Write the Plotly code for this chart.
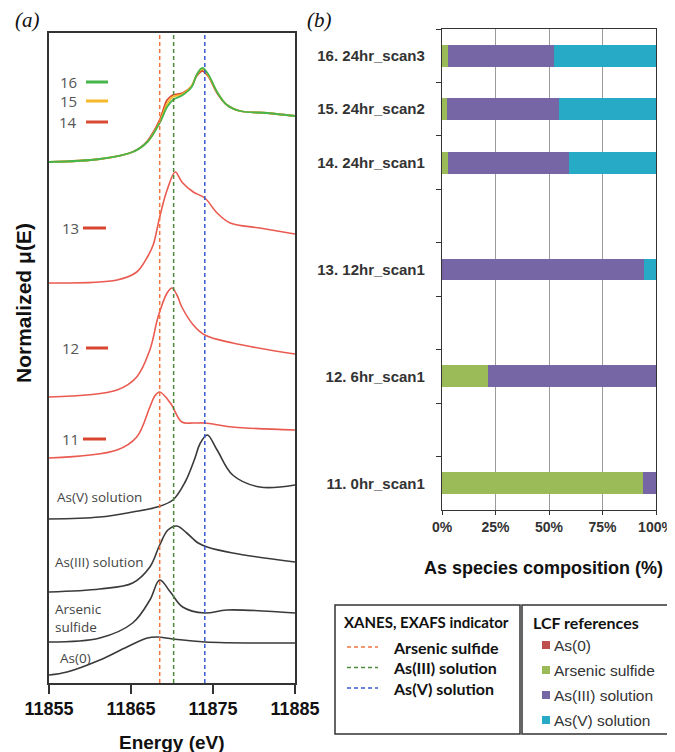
import plotly.graph_objects as go

# page is drawn with an 8px body margin, so the figure is 8px smaller and shifted
OFF = 8
W, H = 675 - OFF, 752 - OFF
def PX(x): return (x - OFF) / W
def PY(y): return 1 - (y - OFF) / H

# ---------------- Panel (a) data: XANES spectra (energy eV, offset normalized mu) -------------
E_top = [11855.0, 11861.2, 11865.2, 11867.0, 11868.5, 11869.4, 11870.1, 11871.3, 11872.4,
         11873.0, 11873.7, 11874.4, 11875.5, 11876.7, 11878.3, 11881.6, 11885.0]
mu16 = [5.21, 5.24, 5.31, 5.41, 5.60, 5.76, 5.83, 5.88, 5.96, 6.08, 6.15, 6.09, 5.91, 5.78, 5.72, 5.70, 5.67]
mu15 = [5.21, 5.24, 5.31, 5.41, 5.61, 5.79, 5.86, 5.89, 5.97, 6.08, 6.14, 6.08, 5.91, 5.78, 5.72, 5.70, 5.67]
mu14 = [5.21, 5.24, 5.31, 5.42, 5.63, 5.83, 5.88, 5.90, 5.97, 6.07, 6.12, 6.07, 5.90, 5.78, 5.72, 5.70, 5.67]

E13 = [11855.0, 11863.3, 11865.7, 11867.0, 11867.7, 11868.5, 11869.4, 11870.4, 11871.2,
       11872.6, 11874.0, 11875.5, 11877.1, 11880.7, 11885.0]
mu13 = [4.00, 4.03, 4.11, 4.26, 4.38, 4.66, 4.93, 5.11, 5.01, 4.91, 4.85, 4.70, 4.60, 4.55, 4.49]

E12 = [11855.0, 11863.3, 11865.7, 11867.3, 11868.3, 11869.4, 11870.0, 11870.6, 11871.2,
       11872.6, 11874.0, 11877.4, 11885.0]
mu12 = [2.86, 2.93, 3.06, 3.33, 3.66, 3.90, 3.95, 3.88, 3.76, 3.58, 3.48, 3.40, 3.29]

E11 = [11855.0, 11863.3, 11865.7, 11867.3, 11867.9, 11868.5, 11869.8, 11871.2, 11872.6,
       11874.0, 11877.4, 11885.0]
mu11 = [2.25, 2.33, 2.46, 2.76, 2.87, 2.91, 2.80, 2.61, 2.60, 2.60, 2.56, 2.53]

E_AsV = [11855.0, 11861.2, 11865.2, 11868.2, 11870.1, 11871.6, 11872.8, 11873.4, 11874.3,
         11875.5, 11877.4, 11880.7, 11885.0]
mu_AsV = [1.64, 1.66, 1.71, 1.76, 1.83, 2.01, 2.25, 2.39, 2.48, 2.33, 2.08, 1.96, 1.98]

E_AsIII = [11855.0, 11861.2, 11865.2, 11867.3, 11868.5, 11869.5, 11870.6, 11871.8, 11873.2,
           11874.3, 11877.4, 11885.0]
mu_AsIII = [0.91, 0.94, 1.00, 1.16, 1.38, 1.53, 1.57, 1.50, 1.40, 1.36, 1.30, 1.21]

E_sulf = [11855.0, 11861.2, 11865.2, 11867.3, 11868.5, 11869.8, 11871.3, 11874.0, 11876.7, 11885.0]
mu_sulf = [0.41, 0.45, 0.60, 0.83, 1.03, 0.91, 0.76, 0.70, 0.73, 0.70]

E_As0 = [11855.0, 11857.2, 11861.2, 11864.5, 11867.0, 11868.2, 11870.1, 11874.0, 11885.0]
mu_As0 = [0.08, 0.11, 0.23, 0.36, 0.45, 0.46, 0.44, 0.41, 0.40]

# indicator energies (dashed lines)
indicator_names = ["Arsenic sulfide", "As(III) solution", "As(V) solution"]
indicator_E = [11868.5, 11870.2, 11874.0]
indicator_colors = ["#f4743f", "#4f8a3c", "#3a5ad0"]

x_ticks = [11855, 11865, 11875, 11885]

# ---------------- Panel (b) data: LCF composition (%) -------------
samples = ["16. 24hr_scan3", "15. 24hr_scan2", "14. 24hr_scan1", " ",
           "13. 12hr_scan1", "  ", "12. 6hr_scan1", "   ", "11. 0hr_scan1"]
ref_names = ["As(0)", "Arsenic sulfide", "As(III) solution", "As(V) solution"]
ref_colors = ["#c0504d", "#9bbb59", "#7666a6", "#27aac5"]
frac_As0 = [0, 0, 0, 0, 0, 0, 0, 0, 0]
frac_sulf = [3.0, 2.2, 3.0, 0, 0, 0, 21.5, 0, 93.8]
frac_AsIII = [49.5, 52.6, 56.4, 0, 94.4, 0, 78.5, 0, 6.2]
frac_AsV = [47.5, 45.2, 40.6, 0, 5.6, 0, 0, 0, 0]
pct_ticks = [0, 25, 50, 75, 100]
pct_labels = ["0%", "25%", "50%", "75%", "100%"]

fig = go.Figure()

black = "#3a3a3a"
salmon = "#ea5a50"
for E, mu in [(E_As0, mu_As0), (E_sulf, mu_sulf), (E_AsIII, mu_AsIII), (E_AsV, mu_AsV)]:
    fig.add_trace(go.Scatter(x=E, y=mu, mode="lines", line=dict(color=black, width=1.6, shape="spline", smoothing=1.0),
                             showlegend=False, xaxis="x", yaxis="y"))
for E, mu in [(E11, mu11), (E12, mu12), (E13, mu13)]:
    fig.add_trace(go.Scatter(x=E, y=mu, mode="lines", line=dict(color=salmon, width=1.6, shape="spline", smoothing=1.0),
                             showlegend=False, xaxis="x", yaxis="y"))
for mu, col in [(mu14, "#d94a32"), (mu15, "#f7b928"), (mu16, "#45b54c")]:
    fig.add_trace(go.Scatter(x=E_top, y=mu, mode="lines", line=dict(color=col, width=1.8, shape="spline", smoothing=1.0),
                             showlegend=False, xaxis="x", yaxis="y"))
for e, col in zip(indicator_E, indicator_colors):
    fig.add_trace(go.Scatter(x=[e, e], y=[0, 6.5], mode="lines", line=dict(color=col, width=1.5, dash="4px,3px"),
                             showlegend=False, xaxis="x", yaxis="y"))

for name, col, vals in zip(ref_names, ref_colors, [frac_As0, frac_sulf, frac_AsIII, frac_AsV]):
    fig.add_trace(go.Bar(y=samples, x=vals, orientation="h", name=name, marker=dict(color=col, line=dict(width=0)),
                         showlegend=False, xaxis="x2", yaxis="y2"))

axcol = "#333333"
bold_tick = dict(family="Liberation Sans", size=18, color="#111111", weight="bold")
fig.update_layout(
    width=W, height=H, margin=dict(l=0, r=0, t=0, b=0, autoexpand=False),
    paper_bgcolor="white", plot_bgcolor="white",
    barmode="stack", bargap=0.59,
    xaxis=dict(domain=[PX(49), PX(295)], range=[11855, 11885], tickvals=x_ticks, automargin=False,
               ticktext=[str(t) for t in x_ticks], ticks="outside", ticklen=9, tickwidth=1.5,
               tickcolor=axcol, showline=True, linecolor=axcol, linewidth=1.5, mirror=True,
               showgrid=False, zeroline=False, tickfont=bold_tick, anchor="y"),
    yaxis=dict(domain=[PY(683), PY(33)], range=[0, 6.5], showticklabels=False, ticks="", automargin=False,
               showline=True, linecolor=axcol, linewidth=1.5, mirror=True, showgrid=False,
               zeroline=False, anchor="x"),
    xaxis2=dict(domain=[PX(442), PX(656)], range=[0, 100], tickvals=pct_ticks, ticktext=pct_labels,
                automargin=False, ticklabeloverflow="allow",
                ticks="outside", ticklen=4, tickcolor=axcol, showline=True, linecolor=axcol,
                linewidth=1.3, mirror=True, showgrid=True, gridcolor="#9a9a9a", gridwidth=1,
                zeroline=False, tickfont=dict(family="Liberation Sans", size=14, color="#333333", weight="bold"),
                anchor="y2"),
    yaxis2=dict(domain=[PY(510), PY(29)], type="category", categoryorder="array", categoryarray=samples,
                automargin=False,
                autorange="reversed", ticks="outside", tickson="boundaries", ticklen=5, tickcolor=axcol,
                showline=True, linecolor=axcol, linewidth=1.3, mirror=True, showgrid=False,
                ticklabelstandoff=13,
                tickfont=dict(family="Liberation Sans", size=15, color="#333333", weight="bold"),
                anchor="x2"),
)

ann = []
shapes = []
# panel letters
ann.append(dict(text="<i>(a)</i>", x=PX(27), y=PY(20), font=dict(family="Liberation Serif", size=21, color="#111")))
ann.append(dict(text="<i>(b)</i>", x=PX(319), y=PY(20), font=dict(family="Liberation Serif", size=21, color="#111")))
# axis titles
ann.append(dict(text="Normalized μ(E)", x=PX(23), y=PY(303), textangle=-90,
                font=dict(family="Liberation Sans", size=21, color="#111", weight="bold")))
ann.append(dict(text="Energy (eV)", x=PX(172), y=PY(742),
                font=dict(family="Liberation Sans", size=19, color="#111", weight="bold")))
ann.append(dict(text="As species composition (%)", x=PX(543), y=PY(568),
                font=dict(family="Liberation Sans", size=18, color="#111", weight="bold")))

# scan labels in panel (a)
scan_labels = ["16", "15", "14", "13", "12", "11"]
scan_label_colors = ["#45b54c", "#f7b928", "#d94a32", "#d9462f", "#d9462f", "#d9462f"]
scan_label_y = [82, 101, 122, 228, 348, 439]
scan_label_x = [68, 68, 68, 70, 70, 70]
scan_line_x = [(86, 108), (86, 108), (86, 108), (83, 106), (86, 108), (83, 106)]
for lab, col, yy, xx, (l0, l1) in zip(scan_labels, scan_label_colors, scan_label_y, scan_label_x, scan_line_x):
    ann.append(dict(text=lab, x=PX(xx), y=PY(yy), font=dict(family="Open Sans", size=15, color="#555")))
    shapes.append(dict(type="line", xref="paper", yref="paper", x0=PX(l0), x1=PX(l1), y0=PY(yy), y1=PY(yy),
                       line=dict(color=col, width=3)))

# reference labels in panel (a)
ref_text = ["As(V) solution", "As(III) solution", "Arsenic<br>sulfide", "As(0)"]
ref_text_x = [55, 53, 53, 58]
ref_text_y = [497, 562, 618, 658]
for t, xx, yy in zip(ref_text, ref_text_x, ref_text_y):
    ann.append(dict(text=t, x=PX(xx), y=PY(yy), xanchor="left", align="left",
                    font=dict(family="Open Sans", size=13.5, color="#444")))

# legend box 1: indicators
shapes.append(dict(type="rect", xref="paper", yref="paper", x0=PX(335), x1=PX(520), y0=PY(734), y1=PY(605),
                   line=dict(color="#333", width=1.5)))
ann.append(dict(text="XANES, EXAFS indicator", x=PX(342), y=PY(622), xanchor="left",
                font=dict(family="Lato", size=15, color="#111", weight="bold")))
for i, (nm, col) in enumerate(zip(indicator_names, indicator_colors)):
    yy = 647 + i * 20.5
    shapes.append(dict(type="line", xref="paper", yref="paper", x0=PX(347), x1=PX(378), y0=PY(yy), y1=PY(yy),
                       line=dict(color=col, width=1.3, dash="4px,3px")))
    ann.append(dict(text=nm, x=PX(391), y=PY(yy), xanchor="left",
                    font=dict(family="Lato", size=16, color="#111", weight="bold")))

# legend box 2: LCF references
shapes.append(dict(type="rect", xref="paper", yref="paper", x0=PX(522), x1=PX(674), y0=PY(734), y1=PY(605),
                   line=dict(color="#333", width=1.5)))
ann.append(dict(text="LCF references", x=PX(531), y=PY(622), xanchor="left",
                font=dict(family="Lato", size=16, color="#111", weight="bold")))
for i, (nm, col) in enumerate(zip(ref_names, ref_colors)):
    yy = 645 + i * 25
    shapes.append(dict(type="rect", xref="paper", yref="paper", x0=PX(542), x1=PX(550), y0=PY(yy + 4), y1=PY(yy - 4),
                       line=dict(width=0), fillcolor=col))
    ann.append(dict(text=nm, x=PX(552), y=PY(yy), xanchor="left",
                    font=dict(family="Liberation Sans", size=15.5, color="#333")))

for a in ann:
    a.setdefault("xref", "paper")
    a.setdefault("yref", "paper")
    a.setdefault("showarrow", False)
    a.setdefault("xanchor", "center")
    a.setdefault("yanchor", "middle")
fig.update_layout(annotations=ann, shapes=shapes)

fig.write_html("out.html")
